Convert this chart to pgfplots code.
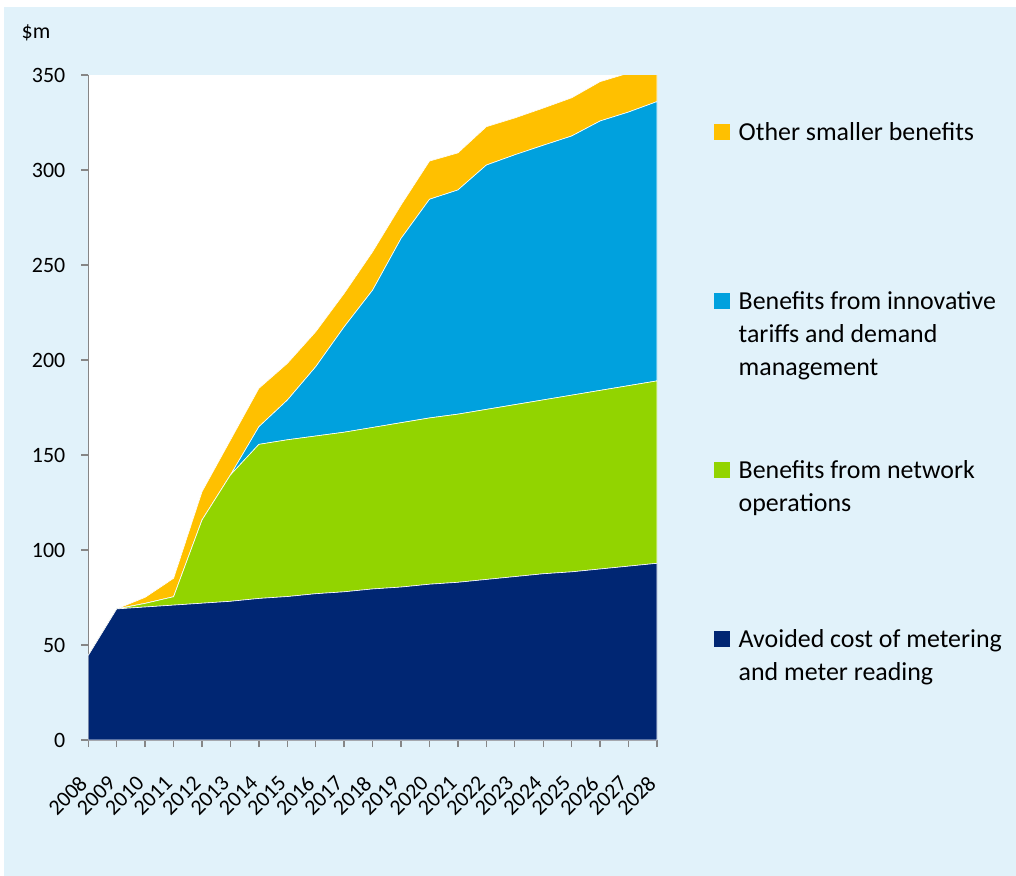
\documentclass[border=0pt]{standalone}
\usepackage{fontspec}
\setmainfont{Carlito}
\usepackage{pgfplots}
\usepackage{pgfplotstable}
\pgfplotsset{compat=1.18}
\definecolor{navy}{RGB}{0,38,115}
\definecolor{lgreen}{RGB}{146,212,0}
\definecolor{sky}{RGB}{0,161,222}
\definecolor{gold}{RGB}{255,192,0}
\definecolor{bgblue}{RGB}{225,242,250}
\definecolor{axisgray}{RGB}{134,134,134}

\pgfplotstableread{
year avoided network tariffs other
2008 44.5 0    0     0
2009 69   0    0     0
2010 70   1.9  0     3.2
2011 71   4.4  0     9.7
2012 72   43.8 0     14.9
2013 73   66.5 0     18.4
2014 74.5 81.1 9.3   20.2
2015 75.5 82.5 20.9  19.3
2016 77   83   36.5  18.4
2017 78   84   55.5  17.6
2018 79.5 85   72.3  20.2
2019 80.5 86.5 97    17.6
2020 82   87.5 115.1 20.1
2021 83   88.5 118   19.5
2022 84.5 89.5 128.6 20.2
2023 86   90.5 131.5 19.4
2024 87.5 91.5 134   19.6
2025 88.5 93   136.4 20.1
2026 90   94   141.8 20.7
2027 91.5 95   144   20.5
2028 93   96   147   20
}\datatable

\begin{document}
\begin{tikzpicture}
\useasboundingbox (-44.15bp,-68bp) rectangle (463.85bp,370bp);
\fill[bgblue] (-42.15bp,-68bp) rectangle (463.85bp,366.5bp);
\begin{axis}[
  at={(0,0)}, anchor=south west,
  scale only axis, width=284.35bp, height=332.5bp,
  xmin=2008, xmax=2028, ymin=0, ymax=350,
  xtick={2008,...,2028}, ytick={0,50,...,350},
  axis lines*=left,
  axis line style={draw=axisgray, line width=0.7bp},
  tick style={draw=axisgray, line width=0.7bp},
  tick align=outside, major tick length=3.5bp,
  axis background/.style={fill=white},
  tick label style={font=\fontsize{11}{13}\selectfont, black},
  /pgf/number format/assume math mode=true,
  /pgf/number format/1000 sep={},
  xticklabel style={yshift=-14bp, rotate=45, anchor=east},
  yticklabel style={xshift=-4.5bp},
  ylabel={\$m},
  every axis y label/.style={at={(axis description cs:-0.1295,1.063)}, anchor=west, font=\fontsize{11}{13}\selectfont},
  stack plots=y,
  reverse legend,
  legend image code/.code={\fill[#1, draw=none] (0bp,0bp) rectangle (8bp,8bp);},
  legend style={at={(axis description cs:1.1002,0.937)}, anchor=north west,
    draw=none, fill=none, inner sep=0pt, row sep=0pt, column sep=4.15bp,
    cells={anchor=base west},
    nodes={inner sep=0pt, text depth={}},
    font=\fontsize{13}{16.5}\selectfont},
]
\addplot[fill=navy, draw=white, line width=0.3bp] table[x=year, y=avoided] {\datatable} \closedcycle;
\addlegendentry{\parbox[t][84.5bp][t]{150bp}{\strut Avoided cost of metering\\and meter reading}}
\addplot[fill=lgreen, draw=white, line width=0.3bp] table[x=year, y=network] {\datatable} \closedcycle;
\addlegendentry{\parbox[t][84.5bp][t]{150bp}{\strut Benefits from network\\operations}}
\addplot[fill=sky, draw=white, line width=0.3bp] table[x=year, y=tariffs] {\datatable} \closedcycle;
\addlegendentry{\parbox[t][84.5bp][t]{150bp}{\strut Benefits from innovative\\tariffs and demand\\management}}
\addplot[fill=gold, draw=white, line width=0.3bp] table[x=year, y=other] {\datatable} \closedcycle;
\addlegendentry{\parbox[t][84.5bp][t]{150bp}{\strut Other smaller benefits}}
\end{axis}
\end{tikzpicture}
\end{document}
